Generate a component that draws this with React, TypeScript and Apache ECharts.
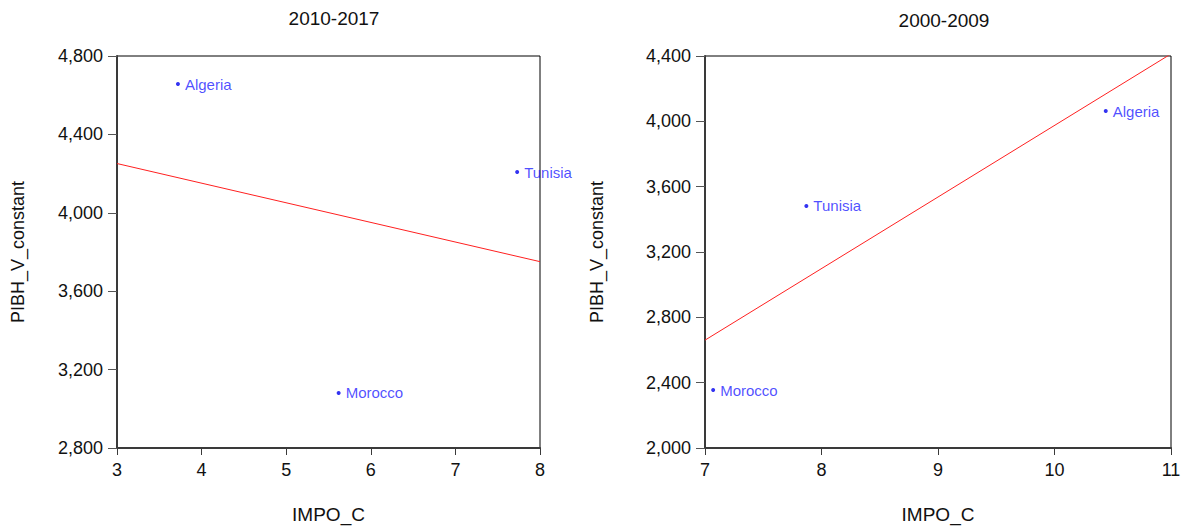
import React, { useEffect, useRef } from "react";
import * as echarts from "echarts";

// 2010-2017 panel
const countries2010 = ["Algeria", "Tunisia", "Morocco"];
const impo2010 = [3.72, 7.73, 5.62];
const pibh2010 = [4657, 4208, 3081];

// 2000-2009 panel
const countries2000 = ["Algeria", "Tunisia", "Morocco"];
const impo2000 = [10.44, 7.87, 7.07];
const pibh2000 = [4063, 3482, 2355];

const xRange2010 = [3, 8];
const yRange2010 = [2800, 4800];
const xRange2000 = [7, 11];
const yRange2000 = [2000, 4400];

// Ordinary least squares fit, evaluated at the ends of the x range
function fitLine(xs: number[], ys: number[], range: number[]) {
  const n = xs.length;
  const mx = xs.reduce((a, b) => a + b, 0) / n;
  const my = ys.reduce((a, b) => a + b, 0) / n;
  let sxy = 0;
  let sxx = 0;
  for (let i = 0; i < n; i++) {
    sxy += (xs[i] - mx) * (ys[i] - my);
    sxx += (xs[i] - mx) * (xs[i] - mx);
  }
  const b = sxy / sxx;
  return range.map((x) => [x, my + b * (x - mx)]);
}

const FONT = "Liberation Sans, Arial, sans-serif";

function thousands(v: number) {
  return v.toLocaleString("en-US");
}

function xAxisFor(gridIndex: number, range: number[]) {
  return {
    type: "value",
    gridIndex,
    min: range[0],
    max: range[1],
    interval: 1,
    name: "IMPO_C",
    nameLocation: "middle",
    nameGap: 57,
    nameTextStyle: { color: "#111", fontSize: 19, fontFamily: FONT },
    axisLine: { show: true, lineStyle: { color: "#3a3a3a", width: 2 } },
    axisTick: { show: true, inside: false, length: 7, lineStyle: { color: "#3a3a3a" } },
    axisLabel: { color: "#111", fontSize: 18, fontFamily: FONT, margin: 13 },
    splitLine: { show: false },
  };
}

function yAxisFor(gridIndex: number, range: number[], nameGap: number) {
  return {
    type: "value",
    gridIndex,
    min: range[0],
    max: range[1],
    interval: 400,
    name: "PIBH_V_constant",
    nameLocation: "middle",
    nameGap,
    nameTextStyle: { color: "#111", fontSize: 18, fontFamily: FONT },
    axisLine: { show: true, lineStyle: { color: "#3a3a3a", width: 2 } },
    axisTick: { show: true, inside: false, length: 9, lineStyle: { color: "#555" } },
    axisLabel: {
      color: "#111",
      fontSize: 18,
      fontFamily: FONT,
      margin: 14,
      padding: [0, 0, 4, 0],
      formatter: (v: number) => thousands(v),
    },
    splitLine: { show: false },
  };
}

function scatterSeries(idx: number, names: string[], xs: number[], ys: number[]) {
  return {
    type: "scatter",
    xAxisIndex: idx,
    yAxisIndex: idx,
    symbol: "circle",
    symbolSize: 4,
    itemStyle: { color: "#0000ee" },
    label: {
      show: true,
      position: "right",
      distance: 5,
      formatter: (p: any) => p.name,
      color: "#1f1fff",
      fontSize: 15,
      fontFamily: FONT,
    },
    data: names.map((name, i) => ({ name, value: [xs[i], ys[i]] })),
    z: 3,
  };
}

function fitSeries(idx: number, xs: number[], ys: number[], range: number[]) {
  return {
    type: "line",
    xAxisIndex: idx,
    yAxisIndex: idx,
    symbol: "none",
    clip: true,
    lineStyle: { color: "#ff2020", width: 1 },
    data: fitLine(xs, ys, range),
    z: 2,
  };
}

const titleStyle = { color: "#111", fontSize: 19, fontWeight: "normal", fontFamily: FONT };

export default function App() {
  const ref = useRef<HTMLDivElement>(null);

  useEffect(() => {
    document.body.style.margin = "0";
    if (!ref.current) return;
    const chart = echarts.init(ref.current, undefined, { renderer: "svg" });
    chart.setOption({
      animation: false,
      backgroundColor: "#ffffff",
      title: [
        { text: "2010-2017", left: 329, top: 4, textAlign: "center", textStyle: titleStyle },
        { text: "2000-2009", left: 939, top: 6, textAlign: "center", textStyle: titleStyle },
      ],
      grid: [
        {
          left: 117,
          top: 56,
          width: 423,
          height: 393,
          show: true,
          borderColor: "#000",
          borderWidth: 1,
          backgroundColor: "#fff",
        },
        {
          left: 705,
          top: 56,
          width: 466,
          height: 393,
          show: true,
          borderColor: "#000",
          borderWidth: 1,
          backgroundColor: "#fff",
        },
      ],
      xAxis: [xAxisFor(0, xRange2010), xAxisFor(1, xRange2000)],
      yAxis: [yAxisFor(0, yRange2010, 90), yAxisFor(1, yRange2000, 99)],
      series: [
        fitSeries(0, impo2010, pibh2010, xRange2010),
        scatterSeries(0, countries2010, impo2010, pibh2010),
        fitSeries(1, impo2000, pibh2000, xRange2000),
        scatterSeries(1, countries2000, impo2000, pibh2000),
      ],
    });
    return () => chart.dispose();
  }, []);

  return <div ref={ref} style={{ width: 1189, height: 529 }} />;
}
